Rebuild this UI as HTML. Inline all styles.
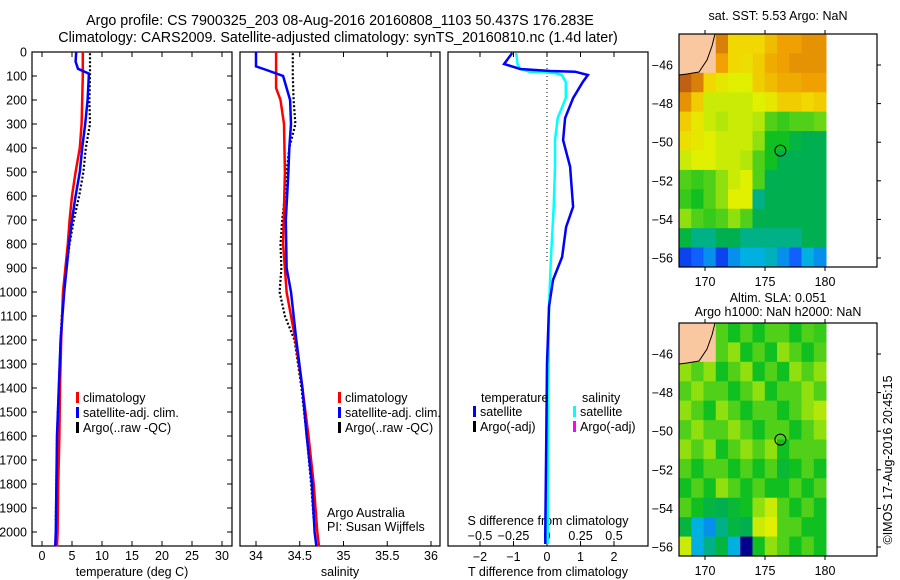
<!DOCTYPE html>
<html><head><meta charset="utf-8"><style>
html,body{margin:0;padding:0;background:#fff;}
svg{display:block;font-family:"Liberation Sans",sans-serif;}
</style></head><body>
<svg id="fig" width="900" height="580" viewBox="0 0 900 580">
<text x="340" y="25" text-anchor="middle" font-size="14.3">Argo profile: CS 7900325_203 08-Aug-2016 20160808_1103 50.437S 176.283E</text>
<text x="338" y="42" text-anchor="middle" font-size="14.3">Climatology: CARS2009. Satellite-adjusted climatology: synTS_20160810.nc (1.4d later)</text>
<g id="g"></g>
</svg>
<script>
// ---- data ----
const tDepth=[0,100,200,300,400,500,600,700,800,900,1000,1200,1400,1600,1800,2000,2060];
const tClim=[6.8,6.8,6.7,6.6,6.3,5.6,5.0,4.6,4.3,3.9,3.5,3.2,3.0,2.9,2.7,2.6,2.5];
const tSatDepth=[0,40,70,90,100,200,300,400,500,600,700,800,900,1000,1200,1400,1600,1800,2000,2060];
const tSat=[5.7,5.6,6.0,7.8,7.8,7.6,7.2,6.7,6.3,5.6,5.0,4.5,4.1,3.7,3.1,2.8,2.5,2.4,2.3,2.2];
const argoDepth=[5,100,200,300,400,500,600,700,800,900,1000,1100,1200,1400,1600,1800,1950];
const argoT=[8.0,8.0,7.9,8.0,7.3,6.9,6.2,5.3,4.6,4.1,3.6,3.3,3.1,2.8,2.5,2.4,2.3];
const sDepth=[0,150,200,300,500,800,1000,1200,1400,1600,1800,2000,2060];
const sClim=[34.23,34.23,34.28,34.32,34.33,34.31,34.35,34.45,34.53,34.6,34.66,34.7,34.72];
const sSatDepth=[0,60,75,100,200,300,400,500,700,900,1000,1200,1400,1600,1800,2000,2060];
const sSat=[34.0,34.0,34.12,34.31,34.39,34.4,34.38,34.37,34.34,34.35,34.4,34.46,34.53,34.58,34.64,34.67,34.69];
const argoS=[34.42,34.42,34.43,34.45,34.38,34.35,34.33,34.3,34.28,34.29,34.27,34.33,34.44,34.52,34.58,34.63,34.66];
const dTDepth=[4,50,71,79,82,96,125,192,275,367,478,645,729,854,950,1062,1300,1600,2000,2050];
const dT=[-1.04,-1.28,-0.8,0.1,0.84,1.22,1.07,0.78,0.54,0.48,0.69,0.78,0.57,0.45,0.18,0.06,0.0,-0.02,-0.05,-0.05];
const dSDepth=[4,50,71,82,85,88,96,125,192,275,367,478,645,854,1062,1500,2000,2050];
const dS=[-0.23,-0.22,-0.2,-0.13,-0.02,0.06,0.11,0.14,0.14,0.08,0.06,0.06,0.05,0.03,0.015,0.01,0.005,0.005];
const depthTicks=[0,100,200,300,400,500,600,700,800,900,1000,1100,1200,1300,1400,1500,1600,1700,1800,1900,2000];
const tTicks=[0,5,10,15,20,25,30];
const sTicks=[34,34.5,35,35.5,36];
const tTickLabels=["0","5","10","15","20","25","30"];
const sTickLabels=["34","34.5","35","35.5","36"];
const dTTicks=[-2,-1,0,1,2];
const dSTicks=[-0.5,-0.25,0,0.25,0.5];
const dSTickLabels=["\u22120.5","\u22120.25","0","0.25","0.5"];
const dTTickLabels=["\u22122","\u22121","0","1","2"];
const latTicks=[-46,-48,-50,-52,-54,-56];
const lonTicks=[170,175,180];
const sstGrid=[
[-1,-1,-1,.85,.7,.7,.7,.75,.8,.8,.82,.82],
[-1,-1,-1,.8,.7,.68,.72,.78,.8,.82,.82,.82],
[.9,.85,.7,.65,.62,.62,.72,.75,.78,.78,.8,.8],
[.82,.72,.6,.6,.6,.6,.62,.65,.72,.72,.7,.72],
[.72,.65,.6,.58,.6,.6,.58,.5,.48,.5,.5,.52],
[.68,.65,.62,.6,.6,.6,.55,.45,.45,.4,.38,.38],
[.6,.62,.62,.6,.6,.58,.5,.45,.38,.38,.38,.38],
[.5,.48,.5,.55,.6,.62,.5,.38,.38,.38,.38,.38],
[.48,.45,.5,.55,.62,.62,.35,.38,.38,.38,.38,.38],
[.55,.5,.48,.5,.55,.5,.38,.38,.38,.38,.38,.38],
[.4,.35,.35,.38,.38,.35,.35,.35,.35,.35,.38,.38],
[.22,.25,.28,.22,.28,.3,.3,.32,.28,.25,.3,.28]];
const slaGrid=[
[-1,-1,-1,.5,.45,.5,.45,.5,.5,.45,.5,.48],
[-1,-1,-1,.5,.55,.45,.5,.45,.55,.5,.45,.5],
[.55,.5,.55,.45,.5,.55,.45,.5,.45,.55,.5,.55],
[.5,.55,.5,.5,.45,.5,.55,.45,.5,.5,.55,.5],
[.55,.5,.45,.55,.5,.45,.5,.5,.45,.5,.55,.58],
[.5,.55,.5,.5,.55,.5,.45,.5,.5,.45,.5,.55],
[.55,.5,.55,.45,.5,.55,.5,.55,.45,.5,.5,.5],
[.5,.45,.5,.5,.45,.5,.45,.5,.42,.45,.5,.45],
[.45,.5,.45,.55,.5,.45,.5,.45,.45,.5,.45,.5],
[.5,.45,.4,.38,.42,.45,.55,.6,.5,.45,.5,.45],
[.4,.3,.28,.35,.4,.38,.6,.62,.5,.5,.45,.45],
[.6,.3,.35,.4,.3,.1,.45,.55,.5,.45,.5,.45]];
// ---- helpers ----
const NS="http://www.w3.org/2000/svg";
const G=document.getElementById('g');
function mk(tag,at,parent){const e=document.createElementNS(NS,tag);for(const k in at)e.setAttribute(k,at[k]);(parent||G).appendChild(e);return e;}
const PT=52,PB=546;
const yD=d=>PT+d*0.24;
function lin(d0,d1,p0,p1){return v=>p0+(v-d0)*(p1-p0)/(d1-d0);}
const xT=lin(0,30,42,222), xS=lin(34,36,256,431), xDT=lin(0,1,547,580.5), xDS=lin(0,0.25,547,580.5);
function box(x,y,w,h,name){const r=mk('rect',{x:x,y:y,width:w,height:h,fill:'none',stroke:'#000','stroke-width':1.2});}
function txt(x,y,s,o){const t=mk('text',Object.assign({x:x,y:y,'font-size':12.5},o||{}));t.textContent=s;return t;}
function line(xs,ds,fx,col,w,name,dash){
  let p='';for(let i=0;i<xs.length;i++)p+=(i?'L':'M')+fx(xs[i]).toFixed(1)+','+yD(ds[i]).toFixed(1);
  const e=mk('path',{d:p,fill:'none',stroke:col,'stroke-width':w});if(dash)e.setAttribute('stroke-dasharray',dash);
  }
// depth labels
depthTicks.forEach(d=>{const t=txt(27,yD(d)+4.5,String(d),{'text-anchor':'end'});
  mk('line',{x1:32,x2:37,y1:yD(d),y2:yD(d),stroke:'#000'});mk('line',{x1:227,x2:232,y1:yD(d),y2:yD(d),stroke:'#000'});});
// panel1
box(32,PT,200,PB-PT,'temperature-panel');
tTicks.forEach((v,i)=>{mk('line',{x1:xT(v),x2:xT(v),y1:PT,y2:PT+5,stroke:'#000'});mk('line',{x1:xT(v),x2:xT(v),y1:PB,y2:PB-5,stroke:'#000'});
  const t=txt(xT(v),560,tTickLabels[i],{'text-anchor':'middle'});});
txt(132,576,'temperature (deg C)',{'text-anchor':'middle'});
line(argoT,argoDepth,xT,'#000',2.2,'argo-temperature','2 2');
line(tClim,tDepth,xT,'#f00',2.5,'climatology-temperature');
line(tSat,tSatDepth,xT,'#00f',2.5,'satellite-temperature');
// panel2
box(240,PT,200,PB-PT,'salinity-panel');
sTicks.forEach((v,i)=>{mk('line',{x1:xS(v),x2:xS(v),y1:PT,y2:PT+5,stroke:'#000'});mk('line',{x1:xS(v),x2:xS(v),y1:PB,y2:PB-5,stroke:'#000'});
  const t=txt(xS(v),560,sTickLabels[i],{'text-anchor':'middle'});});
txt(340,576,'salinity',{'text-anchor':'middle'});
line(argoS,argoDepth,xS,'#000',2.2,'argo-salinity','2 2');
line(sClim,sDepth,xS,'#f00',2.5,'climatology-salinity');
line(sSat,sSatDepth,xS,'#00f',2.5,'satellite-salinity');
txt(327,517,'Argo Australia');txt(327,531,'PI: Susan Wijffels');
// legends
function leg(x,y,col,s){mk('rect',{x:x,y:y-10,width:3,height:11,fill:col});txt(x+7,y,s);}
[[76,'#f00','climatology'],[76,'#00f','satellite-adj. clim.'],[76,'#000','Argo(..raw -QC)']].forEach((a,i)=>leg(a[0],402+i*15,a[1],a[2]));
[[338,'#f00','climatology'],[338,'#00f','satellite-adj. clim.'],[338,'#000','Argo(..raw -QC)']].forEach((a,i)=>leg(a[0],402+i*15,a[1],a[2]));
// panel3
box(448,PT,200,PB-PT,'difference-panel');
mk('line',{x1:547,x2:547,y1:PT,y2:262,stroke:'#000','stroke-dasharray':'1 3'});
dTTicks.forEach((v,i)=>{mk('line',{x1:xDT(v),x2:xDT(v),y1:PT,y2:PT+5,stroke:'#000'});mk('line',{x1:xDT(v),x2:xDT(v),y1:PB,y2:PB-5,stroke:'#000'});
  const t=txt(xDT(v),561,dTTickLabels[i],{'text-anchor':'middle'});});
dSTicks.forEach((v,i)=>{const t=txt(xDS(v),540,dSTickLabels[i],{'text-anchor':'middle'});});
txt(548,525,'S difference from climatology',{'text-anchor':'middle'});
txt(548,576,'T difference from climatology',{'text-anchor':'middle'});
line(dS,dSDepth,xDS,'#0ff',2.5,'salinity-difference');
line(dT,dTDepth,xDT,'#00f',2.5,'temperature-difference');
txt(481,402,'temperature');txt(582,402,'salinity');
leg(473,416,'#00f','satellite');leg(473,431,'#000','Argo(-adj)');
leg(573,416,'#0ff','satellite');leg(573,431,'#f0f','Argo(-adj)');
// colormap
const cStops=[[0.1,[0,0,140]],[0.15,[0,0,200]],[0.25,[16,96,255]],[0.3,[0,176,224]],[0.38,[0,176,80]],[0.45,[16,192,32]],[0.55,[144,224,16]],[0.62,[224,240,0]],[0.7,[240,216,0]],[0.8,[240,160,0]],[0.9,[192,96,16]]];
function cmap(v){for(let i=1;i<cStops.length;i++){if(v<=cStops[i][0]){const a=cStops[i-1],b=cStops[i],t=Math.max(0,(v-a[0])/(b[0]-a[0]));return 'rgb('+a[1].map((c,j)=>Math.round(c+t*(b[1][j]-c))).join(',')+')';}}return 'rgb(192,96,16)';}
function map(top,grid,name,title,ty){
  const L=679,W=198,H=233,lon=lin(170,180,705,825),lat=lin(-46,-56,top+31,top+224);
  const cw=(826-L)/12,ch=H/12;
  grid.forEach((row,r)=>row.forEach((v,c)=>{const e=mk('rect',{x:L+c*cw,y:top+r*ch,width:cw+0.5,height:ch+0.5,fill:v<0?'#fac8a0':cmap(v)});
    }));
  mk('path',{d:`M${L},${top} L${L+36},${top} L${L+33},${top+12} L${L+28},${top+26} L${L+20},${top+38} L${L+8},${top+40} L${L},${top+41} Z`,fill:'#fac8a0',stroke:'#000','stroke-width':1});
  box(L,top,W,H,name);
  latTicks.forEach(v=>{const t=txt(673,lat(v)+4.5,String(v).replace('-','\u2212'),{'text-anchor':'end'});
    mk('line',{x1:L+W,x2:L+W+4,y1:lat(v),y2:lat(v),stroke:'#000'});});
  lonTicks.forEach(v=>{const t=txt(lon(v),top+H+19,String(v),{'text-anchor':'middle'});
    mk('line',{x1:lon(v),x2:lon(v),y1:top,y2:top-4,stroke:'#000'});mk('line',{x1:lon(v),x2:lon(v),y1:top+H,y2:top+H+4,stroke:'#000'});});
  mk('circle',{cx:lon(176.283),cy:lat(-50.437),r:5.5,fill:'none',stroke:'#000'});
  title.forEach((s,i)=>txt(778,ty+i*14,s,{'text-anchor':'middle'}));
}
map(34,sstGrid,'sst-map',['sat. SST: 5.53 Argo: NaN'],20);
map(323,slaGrid,'sla-map',['Altim. SLA: 0.051','Argo h1000: NaN h2000: NaN'],302);
const cr=txt(0,0,'\u00a9IMOS 17-Aug-2016 20:45:15',{'text-anchor':'middle',transform:'translate(892,460) rotate(-90)'});

</script>
</body></html>
